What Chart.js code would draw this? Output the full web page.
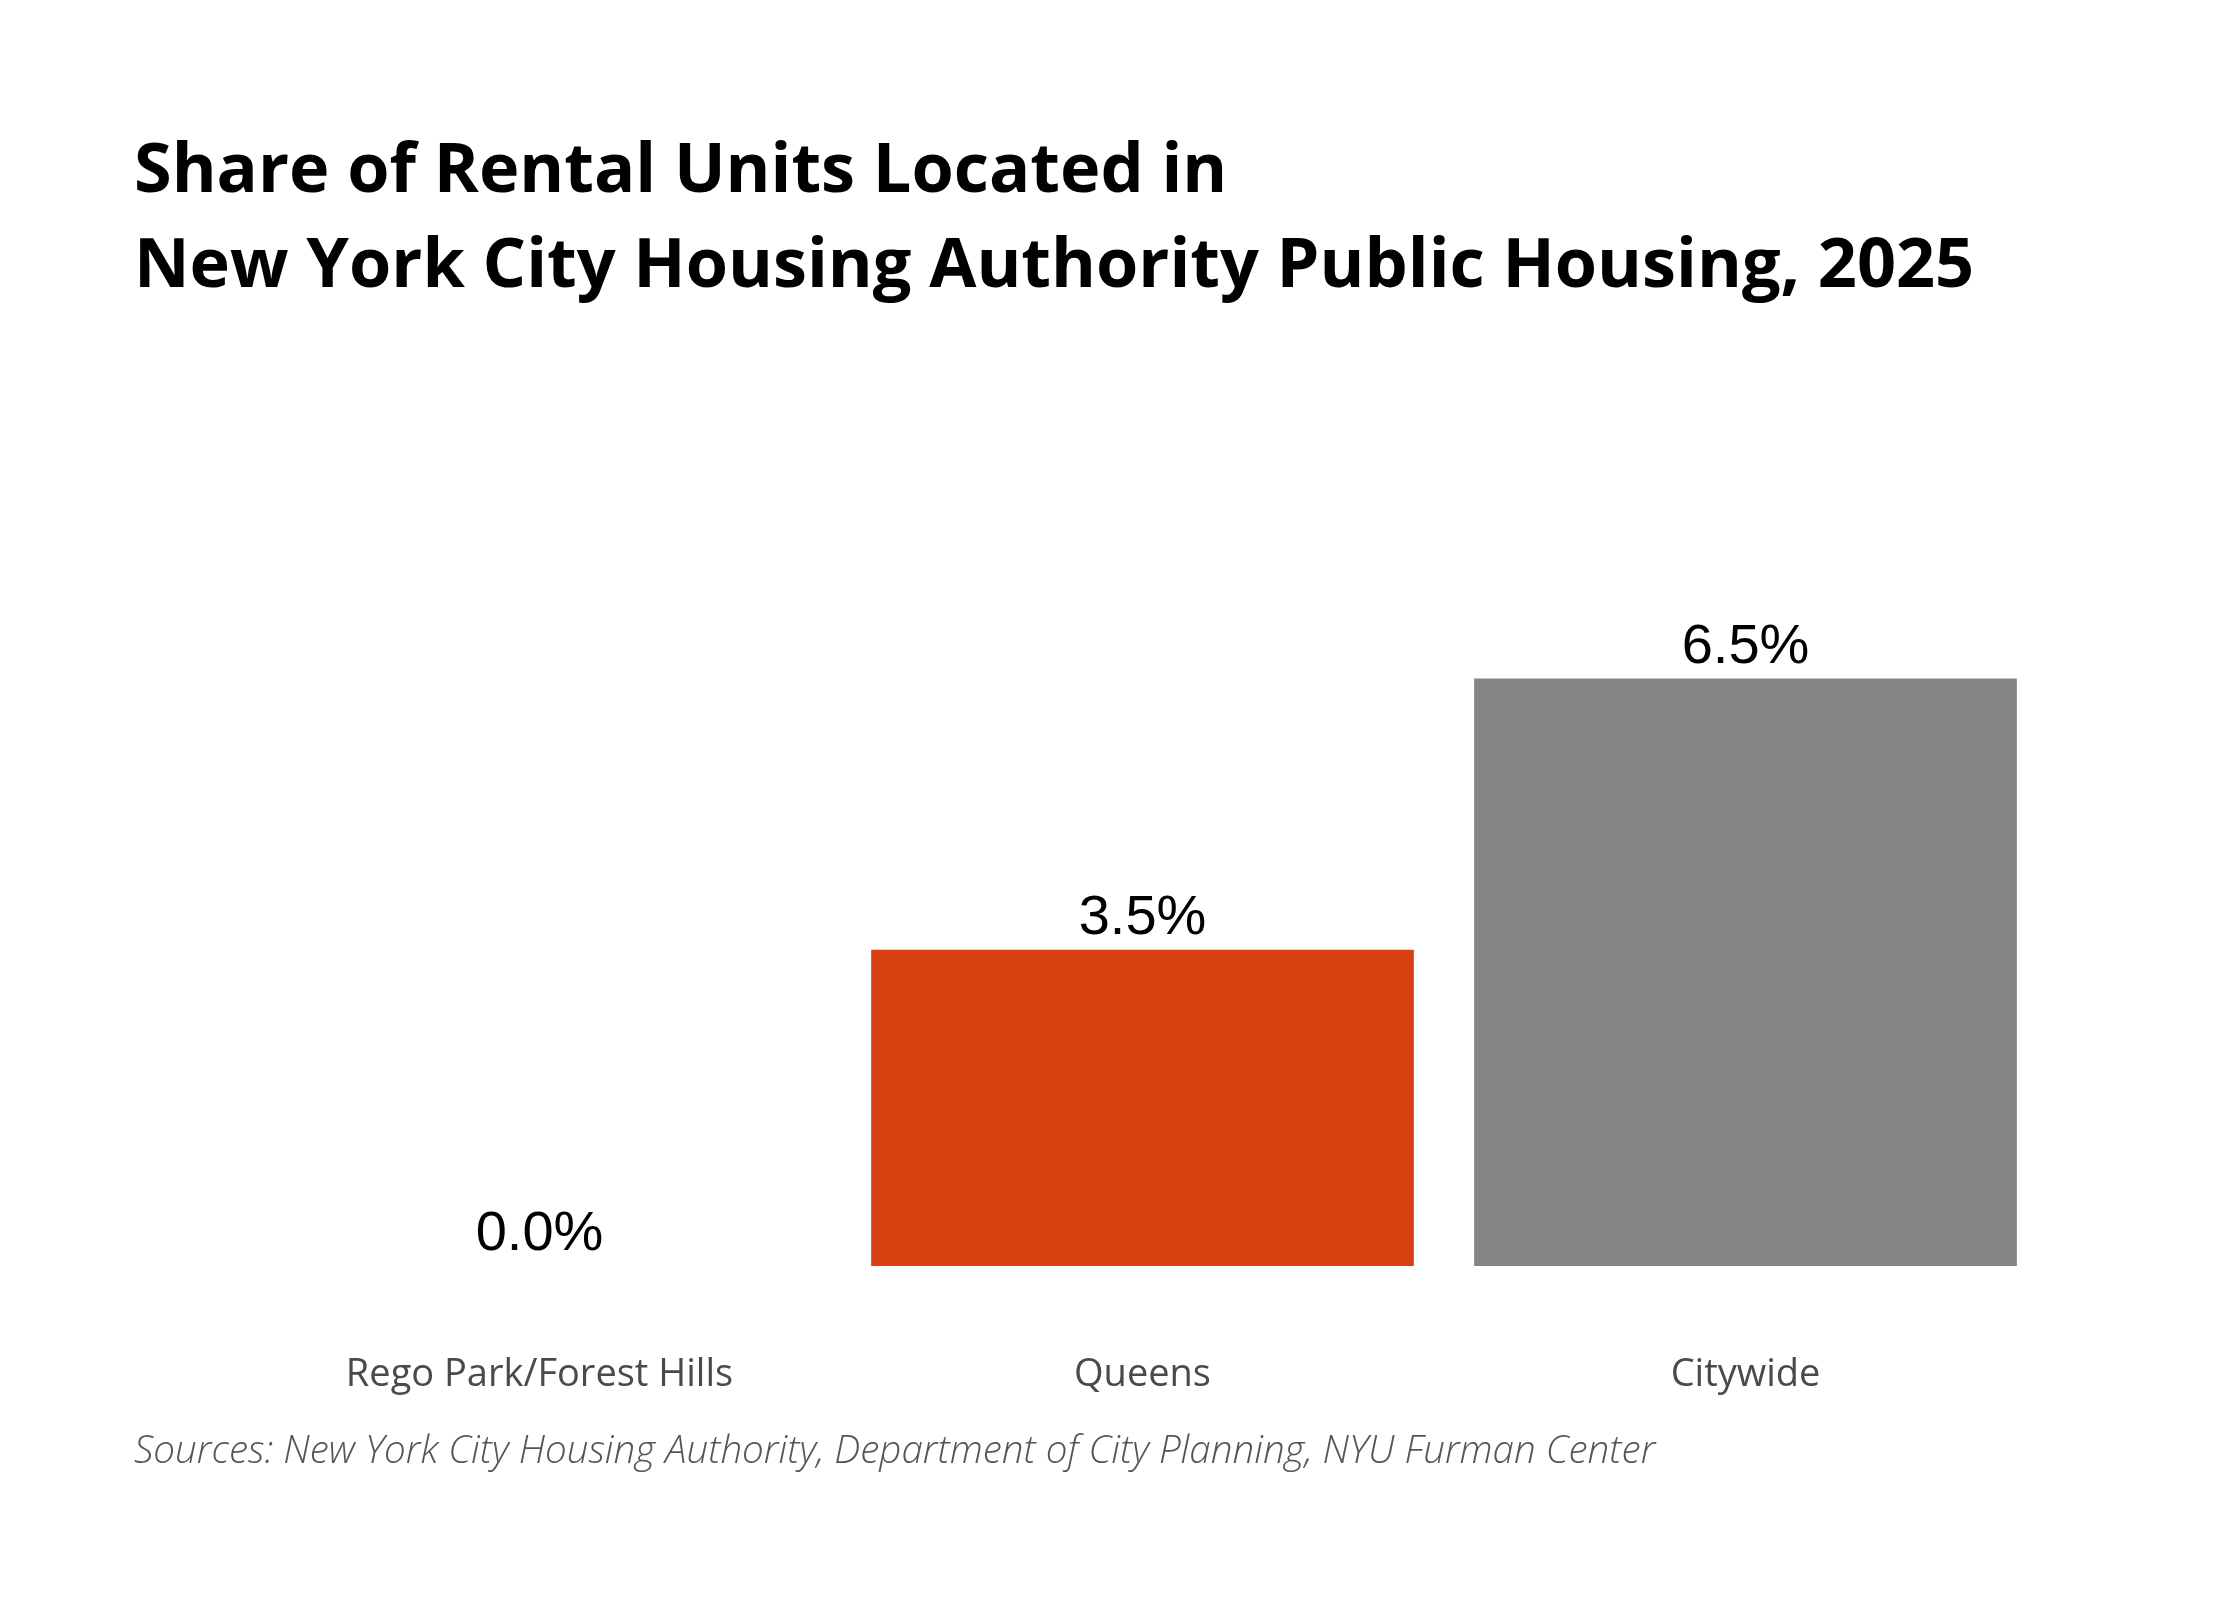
<!DOCTYPE html>
<html>
<head>
<meta charset="utf-8">
<script src="https://cdn.jsdelivr.net/npm/chart.js@4.4.1/dist/chart.umd.min.js"></script>
<style>
  html, body { margin: 0; padding: 0; background: #fff; }
  #wrap { position: relative; width: 2240px; height: 1600px; }
  #chart { position: absolute; left: 0; top: 0; }
  .title {
    position: absolute; left: 134px; top: 118px;
    font-family: "Open Sans", Roboto, sans-serif; font-weight: 700;
    font-size: 68.4px; line-height: 95px; color: #000; white-space: nowrap;
  }
  .source {
    position: absolute; left: 134px; top: 1422px;
    font-family: "Open Sans", sans-serif; font-style: italic; font-weight: 300;
    font-size: 38.6px; line-height: 52px; color: #555; white-space: nowrap;
  }
</style>
</head>
<body>
<div id="wrap">
  <canvas id="chart" width="2240" height="1600"></canvas>
  <div class="title">Share of Rental Units Located in<br>New York City Housing Authority Public Housing, 2025</div>
  <div class="source">Sources: New York City Housing Authority, Department of City Planning, NYU Furman Center</div>
</div>
<script>
// categories and values
const categories = ['Rego Park/Forest Hills', 'Queens', 'Citywide'];
const shares = [0.0, 3.5, 6.5];
const barColors = ['#D84012', '#D84012', '#838486'];

// value labels on top of each bar
const valueLabels = {
    id: 'valueLabels',
    afterDatasetsDraw(chart) {
        const ctx = chart.ctx;
        const meta = chart.getDatasetMeta(0);
        ctx.save();
        ctx.font = '56px "Liberation Sans", Arial, sans-serif';
        ctx.fillStyle = '#000';
        ctx.textAlign = 'center';
        ctx.textBaseline = 'alphabetic';
        meta.data.forEach(function(bar, i) {
            ctx.fillText(shares[i].toFixed(1) + '%', bar.x, bar.y - 16);
        });
        ctx.restore();
    }
};

new Chart(document.getElementById('chart').getContext('2d'), {
    type: 'bar',
    data: {
        labels: categories,
        datasets: [{
            data: shares,
            backgroundColor: barColors,
            borderWidth: 0,
            categoryPercentage: 1.0,
            barPercentage: 0.9
        }]
    },
    options: {
        responsive: false,
        animation: false,
        devicePixelRatio: 1,
        layout: { padding: { left: 238, right: 193, top: 543, bottom: 134 } },
        plugins: {
            legend: { display: false },
            tooltip: { enabled: false }
        },
        scales: {
            x: {
                grid: { display: false, drawTicks: false },
                border: { display: false },
                afterFit(scale) { scale.height = 200; },
                ticks: {
                    color: '#4a4a4a',
                    padding: 86,
                    font: { family: '"Open Sans", sans-serif', size: 38 }
                }
            },
            y: {
                display: false,
                min: 0,
                max: 8
            }
        }
    },
    plugins: [valueLabels]
});
</script>
</body>
</html>
